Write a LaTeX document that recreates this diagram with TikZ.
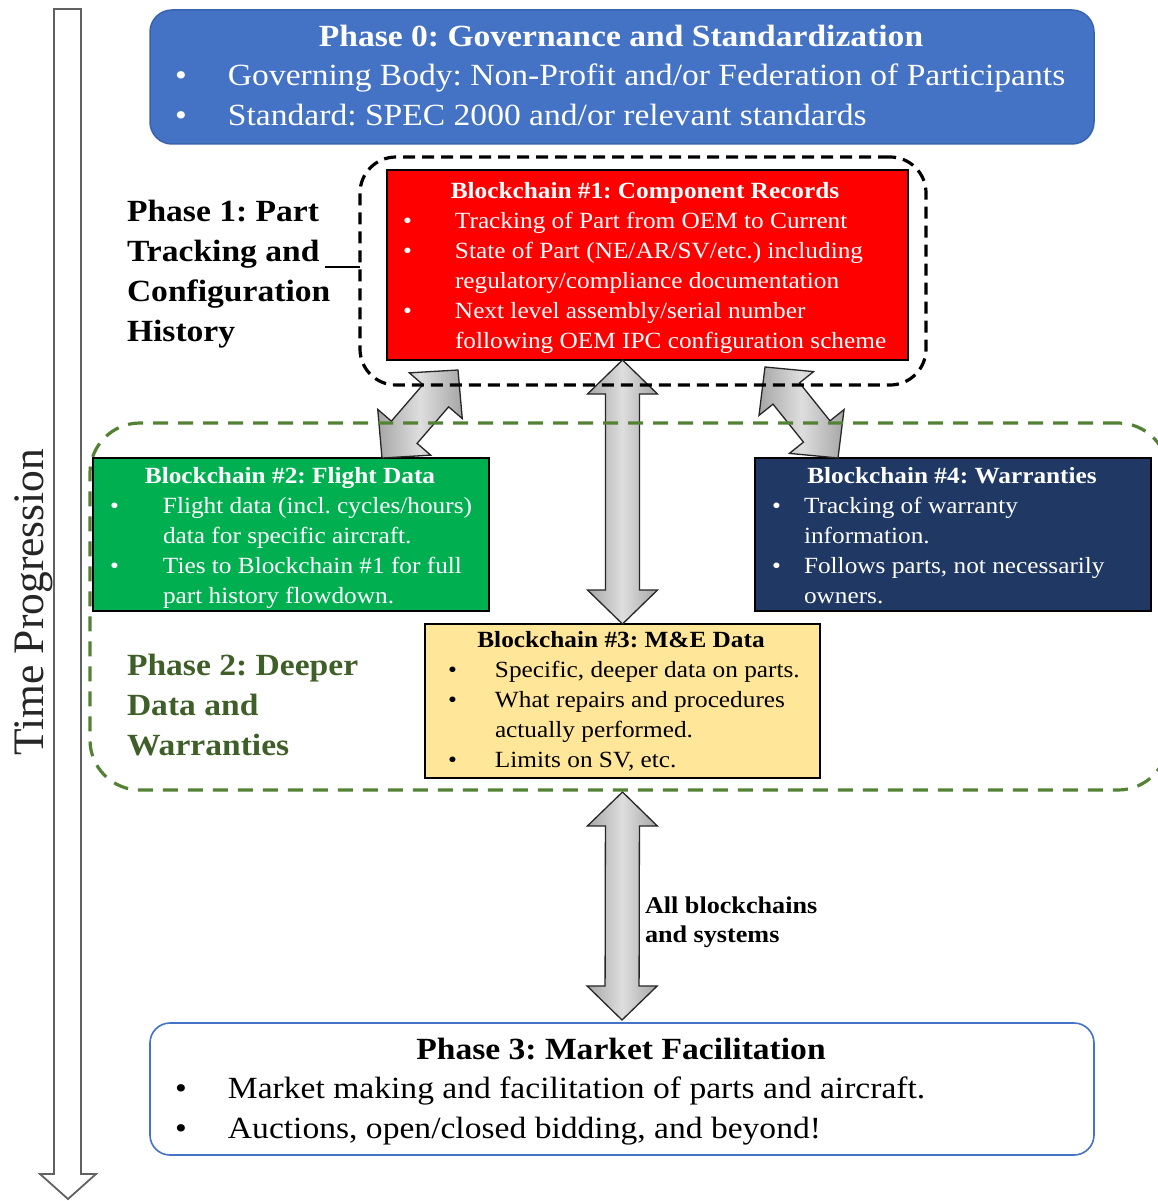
\documentclass[tikz,border=0pt]{standalone}
\usepackage{fontspec}
\setmainfont{Liberation Serif}[FakeStretch=1.09]
\newfontfamily\plainserif{Liberation Serif}
\usetikzlibrary{calc}
\frenchspacing
\definecolor{phzero}{HTML}{4472C4}
\definecolor{phzeroedge}{HTML}{3A63AE}
\definecolor{bcred}{HTML}{FF0000}
\definecolor{bcgreen}{HTML}{00B050}
\definecolor{bcnavy}{HTML}{1F3864}
\definecolor{bcgold}{HTML}{FFE699}
\definecolor{dashgreen}{HTML}{548235}
\definecolor{phtwotext}{HTML}{3F5F28}
\newlength\bulind
\newcommand{\blines}[2]{\vtop{\baselineskip=#1\lineskiplimit=-\maxdimen\relax #2}}
\newcommand{\bitem}[1]{\hbox{\makebox[\bulind][l]{•}#1}}
\newcommand{\bcont}[1]{\hbox{\hspace*{\bulind}#1}}
\def\fah{34pt}
\def\faw{35pt}
\def\fas{17pt}
\newcommand{\fatarrow}[2]{%
  \draw[fatarrowstyle] (#1)
    -- ($(#1)!\fah!(#2)!\faw!90:(#2)$)
    -- ($(#1)!\fah!(#2)!\fas!90:(#2)$)
    -- ($(#2)!\fah!(#1)!\fas!-90:(#1)$)
    -- ($(#2)!\fah!(#1)!\faw!-90:(#1)$)
    -- (#2)
    -- ($(#2)!\fah!(#1)!\faw!90:(#1)$)
    -- ($(#2)!\fah!(#1)!\fas!90:(#1)$)
    -- ($(#1)!\fah!(#2)!\fas!-90:(#2)$)
    -- ($(#1)!\fah!(#2)!\faw!-90:(#2)$)
    -- cycle;}
\tikzset{
  box/.style={draw=black, line width=1.2pt, inner sep=0pt, outer sep=0pt, anchor=north west},
  boxtext/.style={inner sep=0pt, outer sep=0pt, anchor=base west, font=\fontsize{23.2}{30}\selectfont},
  boxtitle/.style={inner sep=0pt, outer sep=0pt, anchor=base, font=\fontsize{23.2}{30}\selectfont\bfseries},
  bigtext/.style={inner sep=0pt, outer sep=0pt, anchor=base west, font=\fontsize{30.8}{40}\selectfont},
  bigtitle/.style={inner sep=0pt, outer sep=0pt, anchor=base, font=\fontsize{30.8}{40}\selectfont\bfseries},
  fatarrowstyle/.style={draw=black!85, line width=1.3pt, line join=miter,
    left color=black!35, right color=black!35, middle color=black!13},
  regionblack/.style={draw=black, line width=3.2pt, dash pattern=on 12pt off 7pt, rounded corners=36pt, inner sep=0pt, outer sep=0pt, anchor=north west},
  regiongreen/.style={draw=dashgreen, line width=3.2pt, dash pattern=on 15pt off 10pt, rounded corners=50pt, inner sep=0pt, outer sep=0pt, anchor=north west},
}
\begin{document}
\begin{tikzpicture}[x=1pt,y=-1pt]
\useasboundingbox[fill=white] (0,0) rectangle (1158,1201);

% time progression arrow
\draw[draw=black!62, line width=1.8pt, fill=white, line join=miter]
  (54,9) -- (81,9) -- (81,1174) -- (96,1174) -- (68,1199) -- (40,1174) -- (54,1174) -- cycle;
\node[inner sep=0pt, anchor=base, rotate=90, font=\plainserif\fontsize{43.5}{50}\selectfont, text=black!85] (timelbl) at (43,602) {Time Progression};

% boxes
\node[box, draw=phzeroedge, line width=1.5pt, fill=phzero, rounded corners=22pt, minimum width=944pt, minimum height=134pt] (ph0) at (150,10) {};
\node[box, fill=bcred, minimum width=521pt, minimum height=190pt] (red) at (387,170) {};
\node[box, fill=bcgreen, minimum width=396pt, minimum height=153pt] (green) at (93,458) {};
\node[box, fill=bcnavy, minimum width=396pt, minimum height=153pt] (navy) at (755,458) {};
\node[box, fill=bcgold, minimum width=395pt, minimum height=154pt] (me) at (425,624) {};
\node[box, draw=phzero, line width=1.6pt, fill=white, rounded corners=20pt, minimum width=944pt, minimum height=132pt] (ph3) at (150,1023) {};

% fat arrows
\coordinate (ctop) at (me.north |- red.south);
\coordinate (ltop) at ($(red.south west)+(71,10)$);
\coordinate (lbot) at ($(green.north west)+(289,0)$);
\coordinate (rtop) at ($(red.south east)+(-143,7)$);
\coordinate (rbot) at ($(navy.north west)+(83,0)$);
\coordinate (dtop) at ($(me.south)+(0,14)$);
\coordinate (dbot) at ($(ph3.north)+(0,-3)$);
\fatarrow{ctop}{me.north}
\fatarrow{ltop}{lbot}
\fatarrow{rtop}{rbot}
\fatarrow{dtop}{dbot}

% dashed regions
\node[regionblack, minimum width=566pt, minimum height=228pt] (p1box) at (360,157) {};
\node[regiongreen, minimum width=1078pt, minimum height=367pt] (p2box) at (90,423) {};

% phase 0 text
\node[bigtitle, text=white] (ph0title) at (621,47) {Phase 0: Governance and Standardization};
\node[bigtext, text=white] (ph0list) at (175,86) {\setlength\bulind{53pt}\blines{40pt}{%
  \bitem{Governing Body: Non-Profit and/or Federation of Participants}%
  \bitem{Standard: SPEC 2000 and/or relevant standards}}};

% phase 1 label
\node[bigtext, font=\fontsize{30.8}{40}\selectfont\bfseries] (p1lbl) at (127,221) {\blines{40pt}{%
  \hbox{Phase 1: Part}\hbox{Tracking and}\hbox{Configuration}\hbox{History}}};
\coordinate (p1tick) at (325,267);
\draw[line width=1.5pt] (p1tick) -- (p1tick -| p1box.west);

% red box text
\node[boxtitle, text=white] (redtitle) at (645,198) {Blockchain \#1: Component Records};
\node[boxtext, text=white] (redlist) at (403,228) {\setlength\bulind{52pt}\blines{30pt}{%
  \bitem{Tracking of Part from OEM to Current}%
  \bitem{State of Part (NE/AR/SV/etc.) including}%
  \bcont{regulatory/compliance documentation}%
  \bitem{Next level assembly/serial number}%
  \bcont{following OEM IPC configuration scheme}}};

% green box text
\node[boxtitle, text=white] (greentitle) at (290,483) {Blockchain \#2: Flight Data};
\node[boxtext, text=white] (greenlist) at (110,513) {\setlength\bulind{53pt}\blines{30pt}{%
  \bitem{Flight data (incl. cycles/hours)}%
  \bcont{data for specific aircraft.}%
  \bitem{Ties to Blockchain \#1 for full}%
  \bcont{part history flowdown.}}};

% navy box text
\node[boxtitle, text=white] (navytitle) at (952,483) {Blockchain \#4: Warranties};
\node[boxtext, text=white] (navylist) at (772,513) {\setlength\bulind{32pt}\blines{30pt}{%
  \bitem{Tracking of warranty}%
  \bcont{information.}%
  \bitem{Follows parts, not necessarily}%
  \bcont{owners.}}};

% M&E box text
\node[boxtitle, text=black] (metitle) at (621,647) {Blockchain \#3: M\&E Data};
\node[boxtext, text=black] (melist) at (448,677) {\setlength\bulind{47pt}\blines{30pt}{%
  \bitem{Specific, deeper data on parts.}%
  \bitem{What repairs and procedures}%
  \bcont{actually performed.}%
  \bitem{Limits on SV, etc.}}};

% phase 2 label
\node[bigtext, font=\fontsize{30.8}{40}\selectfont\bfseries, text=phtwotext] (p2lbl) at (127,675) {\blines{40pt}{%
  \hbox{Phase 2: Deeper}\hbox{Data and}\hbox{Warranties}}};

% all blockchains label
\node[boxtext, font=\fontsize{24}{30}\selectfont\bfseries] (alllbl) at (645,913) {\blines{29pt}{%
  \hbox{All blockchains}\hbox{and systems}}};

% phase 3 text
\node[bigtitle, text=black] (ph3title) at (621,1059) {Phase 3: Market Facilitation};
\node[bigtext, text=black] (ph3list) at (175,1098) {\setlength\bulind{53pt}\blines{40pt}{%
  \bitem{Market making and facilitation of parts and aircraft.}%
  \bitem{Auctions, open/closed bidding, and beyond!}}};
\end{tikzpicture}
\end{document}
